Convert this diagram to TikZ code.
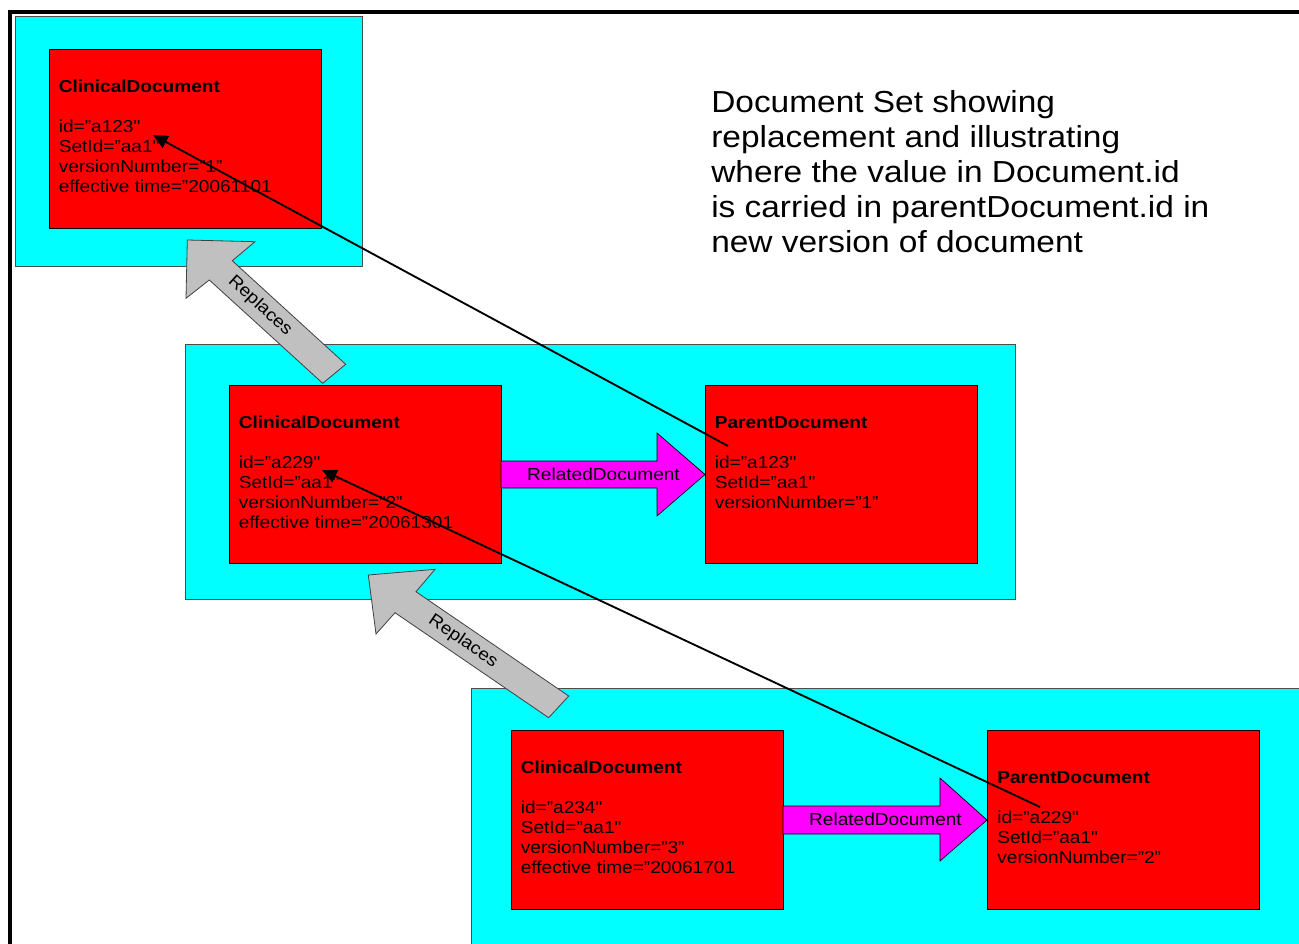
\documentclass[tikz,border=0pt]{standalone}
\usepackage{fontspec}
\newfontfamily\docf{Liberation Sans}[FakeStretch=1.1,Ligatures=TeXOff]
\usetikzlibrary{arrows.meta,calc,fit}
\definecolor{boxcyan}{HTML}{00FFFF}
\definecolor{boxred}{HTML}{FF0000}
\definecolor{arrmag}{HTML}{FF00FF}
\definecolor{arrgray}{HTML}{C0C0C0}
\begin{document}
\begin{tikzpicture}[x=0.75pt,y=-0.75pt,
  cyanbox/.style={draw=black!70,line width=0.6pt,fill=boxcyan,inner sep=0pt},
  redbox/.style={draw=black,line width=0.6pt,fill=boxred,inner sep=0pt},
  doctext/.style={anchor=north west,inner sep=0pt,align=left,font=\docf\fontsize{13}{15}\selectfont},
  titletext/.style={anchor=north west,inner sep=0pt,align=left,font=\docf\fontsize{22.8}{26.2}\selectfont},
  rellabel/.style={anchor=base,inner sep=0pt,font=\docf\fontsize{13}{15}\selectfont},
  replabel/.style={inner sep=0pt,font=\docf\fontsize{13}{15}\selectfont},
  magarrow/.style={draw=black,line width=0.5pt,fill=arrmag,line join=miter},
  grayarrow/.style={draw=black!75,line width=0.6pt,fill=arrgray,line join=miter},
  conn/.style={draw=black,line width=1.4pt,-{Triangle[length=11pt,width=10pt]}},
  frameline/.style={draw=black,line width=3pt,line join=miter}]
\useasboundingbox (0,0) rectangle (1299,943);
\clip (0,0) rectangle (1299,943);
% outer containers
\node[cyanbox, fit={(15,16) (362,266)}] (c1) {};
\node[cyanbox, fit={(185,344) (1015,599)}] (c2) {};
\node[cyanbox, fit={(471,688) (1310,960)}] (c3) {};
% document boxes
\node[redbox, fit={(49,49) (321,228)}] (cd1) {};
\node[redbox, fit={(229,385) (501,563)}] (cd2) {};
\node[redbox, fit={(705,385) (977,563)}] (pd1) {};
\node[redbox, fit={(511,730) (783,909)}] (cd3) {};
\node[redbox, fit={(987,730) (1259,909)}] (pd2) {};
% texts
\node[doctext] (tcd1) at ($(cd1.north west)+(10,31.5)$) {\textbf{ClinicalDocument}\\[15pt]id=”a123"\\SetId=”aa1"\\versionNumber=”1”\\effective time=”20061101};
\node[doctext] (tcd2) at ($(cd2.north west)+(10,31.5)$) {\textbf{ClinicalDocument}\\[15pt]id=”a229"\\SetId=”aa1"\\versionNumber=”2”\\effective time=”20061301};
\node[doctext] (tpd1) at ($(pd1.north west)+(10,31.5)$) {\textbf{ParentDocument}\\[15pt]id=”a123"\\SetId=”aa1"\\versionNumber=”1”};
\node[doctext] (tcd3) at ($(cd3.north west)+(10,31.5)$) {\textbf{ClinicalDocument}\\[15pt]id=”a234"\\SetId=”aa1"\\versionNumber=”3”\\effective time=”20061701};
\node[doctext] (tpd2) at ($(pd2.north west)+(10.5,41.5)$) {\textbf{ParentDocument}\\[15pt]id=”a229"\\SetId=”aa1"\\versionNumber=”2”};
\node[titletext] (title) at (711,90.5) {Document Set showing\\replacement and illustrating\\where the value in Document.id\\is carried in parentDocument.id in\\new version of document};
% RelatedDocument block arrows
\draw[magarrow] (501,461) -- (657,461) -- (657,433) -- (705,474.5) -- (657,516) -- (657,488) -- (501,488) -- cycle;
\draw[magarrow] (783,806) -- (940,806) -- (940,778) -- (987,820) -- (940,861) -- (940,834) -- (783,834) -- cycle;
\node[rellabel] (rd1) at (603.5,480) {RelatedDocument};
\node[rellabel] (rd2) at (885.5,825.5) {RelatedDocument};
% Replaces block arrows
\draw[grayarrow] (187.3,240) -- (255,241.7) -- (232.3,260.7) -- (345.7,364.3) -- (322.7,383.3) -- (209.3,280) -- (186,298.3) -- cycle;
\draw[grayarrow] (368.3,575) -- (435,569.3) -- (416,591.7) -- (568.7,696) -- (548.7,717.7) -- (395,612.7) -- (376,634) -- cycle;
\node[replabel, rotate=-42.3] (rl1) at (260,306) {Replaces};
\node[replabel, rotate=-34.3] (rl2) at (463,641.5) {Replaces};
% id carried connectors
\coordinate (pid1) at (728,446);
\coordinate (cid1) at (153,135);
\coordinate (pid2) at (1040,807);
\coordinate (cid2) at (322,470);
\draw[conn] (pid1) -- (cid1);
\draw[conn] (pid2) -- (cid2);
% page frame
\coordinate (fb) at (10.3,950);
\coordinate (fc) at (10.3,12.3);
\coordinate (fr) at (1310,12.3);
\draw[frameline] (fb) -- (fc) -- (fr);
\end{tikzpicture}
\end{document}
